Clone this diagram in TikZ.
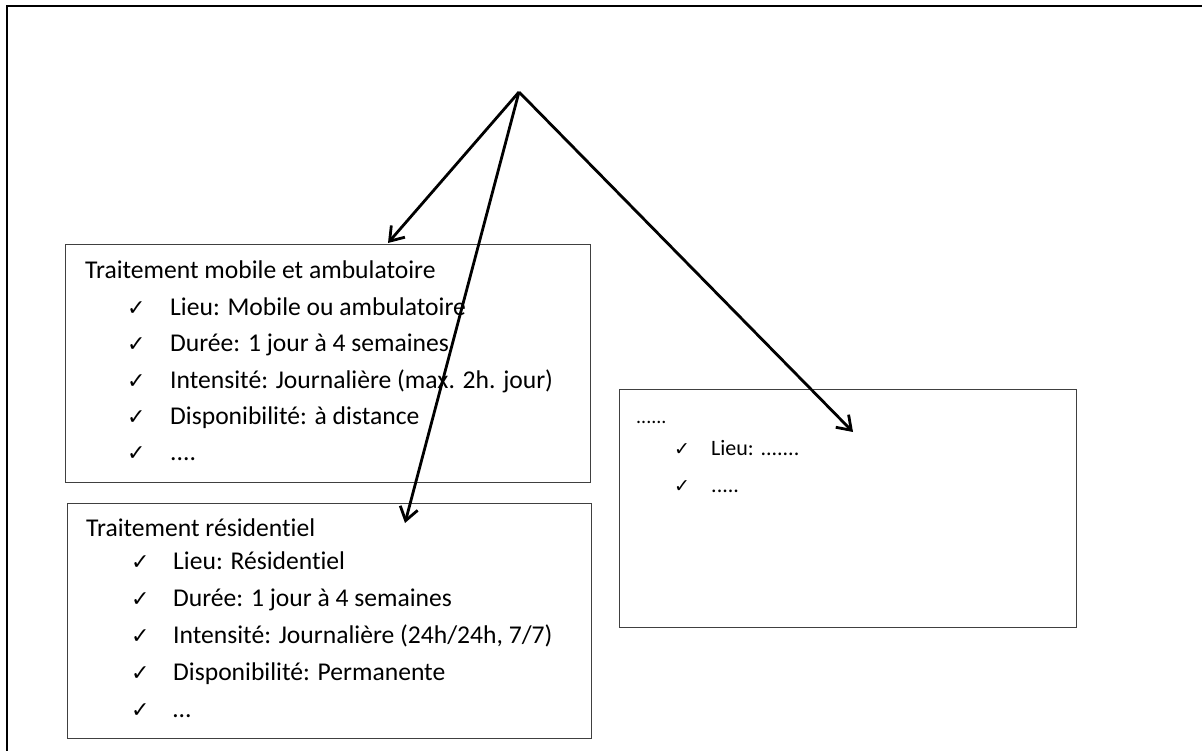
\documentclass[tikz,border=0pt]{standalone}
\usepackage{fontspec}
\setmainfont[Ligatures=NoCommon]{Carlito}
\newfontfamily\symfont{DejaVu Sans}
\usetikzlibrary{arrows.meta}
\begin{document}
\begin{tikzpicture}[x=1pt,y=-1pt,
  box/.style={draw=black!75, line width=1.4pt, inner sep=0pt, anchor=north west},
  txt/.style={anchor=base west, inner sep=0pt, font=\fontsize{25.6}{30}\selectfont},
  chk/.style={anchor=base west, inner sep=0pt, font=\symfont\fontsize{22}{24}\selectfont},
  arr/.style={line width=2.8pt, -{Straight Barb[length=13pt,width=18pt]}}]
\useasboundingbox (0,0) rectangle (1202,751);
\draw[line width=2pt] (1202,6) -- (7,6) -- (7,751);
% boxes
\node[box, minimum width=525pt, minimum height=238pt] (b1) at (65,244) {};
\node[box, minimum width=524pt, minimum height=235pt] (b2) at (67,503) {};
\node[box, minimum width=457pt, minimum height=238pt] (b3) at (619,389) {};
% box 1
\node[txt] (t1) at (85,279) {Traitement mobile et ambulatoire};
\node[chk] (c11) at (127,316) {✓};
\node[txt] (l11) at (170,316) {Lieu: Mobile ou ambulatoire};
\node[chk] (c12) at (127,352) {✓};
\node[txt] (l12) at (170,352) {Durée: 1 jour à 4 semaines};
\node[chk] (c13) at (127,388) {✓};
\node[txt] (l13) at (170,388) {Intensité: Journalière (max. 2h. jour)};
\node[chk] (c14) at (127,424) {✓};
\node[txt] (l14) at (170,424) {Disponibilité: à distance};
\node[chk] (c15) at (127,460) {✓};
\node[txt] (l15) at (170,460) {....};
% box 2
\node[txt] (t2) at (86,536) {Traitement résidentiel};
\node[chk] (c21) at (131,569) {✓};
\node[txt] (l21) at (173,569) {Lieu: Résidentiel};
\node[chk] (c22) at (131,606) {✓};
\node[txt] (l22) at (173,606) {Durée: 1 jour à 4 semaines};
\node[chk] (c23) at (131,643) {✓};
\node[txt] (l23) at (173,643) {Intensité: Journalière (24h/24h, 7/7)};
\node[chk] (c24) at (131,680) {✓};
\node[txt] (l24) at (173,680) {Disponibilité: Permanente};
\node[chk] (c25) at (131,717) {✓};
\node[txt] (l25) at (173,717) {…};
% box 3
\node[txt, font=\fontsize{20}{24}\selectfont] (t3) at (636,423) {......};
\node[chk, font=\symfont\fontsize{19}{20}\selectfont] (c31) at (674,455) {✓};
\node[txt, font=\fontsize{22}{26}\selectfont] (l31) at (711,455) {Lieu: .......};
\node[chk, font=\symfont\fontsize{19}{20}\selectfont] (c32) at (674,492) {✓};
\node[txt, font=\fontsize{22}{26}\selectfont] (l32) at (711,492) {.....};
% arrows
\coordinate (apex) at (519,92);
\coordinate (e1) at (388,243);
\coordinate (e2) at (405,523);
\coordinate (e3) at (853,432);
\draw[arr] (apex) -- (e1);
\draw[arr] (apex) -- (e2);
\draw[arr] (apex) -- (e3);
\end{tikzpicture}
\end{document}
